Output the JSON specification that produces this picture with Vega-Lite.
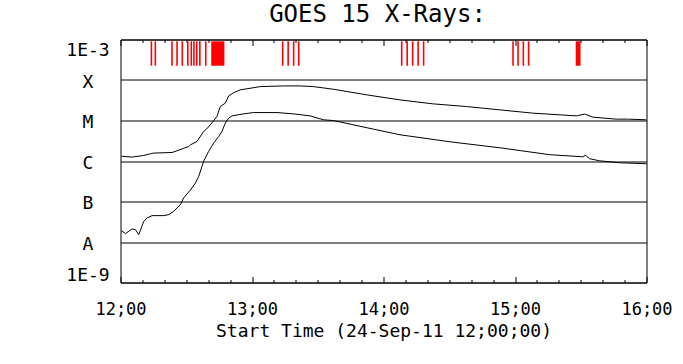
{
  "$schema": "https://vega.github.io/schema/vega-lite/v6.json",
  "autosize": {"type": "none"},
  "width": 526,
  "height": 243,
  "padding": {"left": 120.5, "top": 39.5, "right": 36.5, "bottom": 81.5},
  "background": "white",
  "title": {"text": "GOES 15 X-Rays:", "font": "DejaVu Sans Mono", "fontSize": 24, "fontWeight": "normal", "color": "black", "offset": 12, "dx": -6},
  "config": {
    "view": {"stroke": "black", "strokeWidth": 1},
    "axis": {"grid": false, "domain": false, "tickColor": "black", "tickWidth": 1, "labelColor": "black", "titleColor": "black"}
  },
  "datasets": {
    "flux": [
      {"ch": "long", "t": "2011-09-24T12:00:28Z", "v": 1.31e-6},
      {"ch": "long", "t": "2011-09-24T12:05:18Z", "v": 1.25e-6},
      {"ch": "long", "t": "2011-09-24T12:10:36Z", "v": 1.37e-6},
      {"ch": "long", "t": "2011-09-24T12:13:42Z", "v": 1.51e-6},
      {"ch": "long", "t": "2011-09-24T12:15:12Z", "v": 1.57e-6},
      {"ch": "long", "t": "2011-09-24T12:23:30Z", "v": 1.62e-6},
      {"ch": "long", "t": "2011-09-24T12:25:48Z", "v": 1.79e-6},
      {"ch": "long", "t": "2011-09-24T12:31:06Z", "v": 2.28e-6},
      {"ch": "long", "t": "2011-09-24T12:31:54Z", "v": 2.51e-6},
      {"ch": "long", "t": "2011-09-24T12:34:54Z", "v": 3.03e-6},
      {"ch": "long", "t": "2011-09-24T12:37:54Z", "v": 5.35e-6},
      {"ch": "long", "t": "2011-09-24T12:39:12Z", "v": 6.12e-6},
      {"ch": "long", "t": "2011-09-24T12:41:00Z", "v": 7.82e-6},
      {"ch": "long", "t": "2011-09-24T12:44:00Z", "v": 1.25e-5},
      {"ch": "long", "t": "2011-09-24T12:45:30Z", "v": 2.21e-5},
      {"ch": "long", "t": "2011-09-24T12:47:48Z", "v": 2.68e-5},
      {"ch": "long", "t": "2011-09-24T12:49:24Z", "v": 4.06e-5},
      {"ch": "long", "t": "2011-09-24T12:51:30Z", "v": 4.81e-5},
      {"ch": "long", "t": "2011-09-24T12:54:36Z", "v": 5.70e-5},
      {"ch": "long", "t": "2011-09-24T13:03:48Z", "v": 6.87e-5},
      {"ch": "long", "t": "2011-09-24T13:14:24Z", "v": 7.14e-5},
      {"ch": "long", "t": "2011-09-24T13:22:00Z", "v": 7.14e-5},
      {"ch": "long", "t": "2011-09-24T13:28:00Z", "v": 6.87e-5},
      {"ch": "long", "t": "2011-09-24T13:37:00Z", "v": 5.93e-5},
      {"ch": "long", "t": "2011-09-24T13:52:24Z", "v": 4.29e-5},
      {"ch": "long", "t": "2011-09-24T14:07:30Z", "v": 3.23e-5},
      {"ch": "long", "t": "2011-09-24T14:22:30Z", "v": 2.58e-5},
      {"ch": "long", "t": "2011-09-24T14:37:54Z", "v": 2.21e-5},
      {"ch": "long", "t": "2011-09-24T14:53:06Z", "v": 1.83e-5},
      {"ch": "long", "t": "2011-09-24T15:08:06Z", "v": 1.52e-5},
      {"ch": "long", "t": "2011-09-24T15:28:00Z", "v": 1.30e-5},
      {"ch": "long", "t": "2011-09-24T15:31:48Z", "v": 1.44e-5},
      {"ch": "long", "t": "2011-09-24T15:35:30Z", "v": 1.21e-5},
      {"ch": "long", "t": "2011-09-24T15:46:12Z", "v": 1.08e-5},
      {"ch": "long", "t": "2011-09-24T15:51:24Z", "v": 1.08e-5},
      {"ch": "long", "t": "2011-09-24T15:59:54Z", "v": 1.04e-5},
      {"ch": "short", "t": "2011-09-24T12:00:28Z", "v": 1.91e-8},
      {"ch": "short", "t": "2011-09-24T12:02:17Z", "v": 1.61e-8},
      {"ch": "short", "t": "2011-09-24T12:03:47Z", "v": 1.84e-8},
      {"ch": "short", "t": "2011-09-24T12:05:20Z", "v": 2.10e-8},
      {"ch": "short", "t": "2011-09-24T12:06:50Z", "v": 2.02e-8},
      {"ch": "short", "t": "2011-09-24T12:08:20Z", "v": 1.52e-8},
      {"ch": "short", "t": "2011-09-24T12:10:37Z", "v": 3.24e-8},
      {"ch": "short", "t": "2011-09-24T12:12:10Z", "v": 3.93e-8},
      {"ch": "short", "t": "2011-09-24T12:14:26Z", "v": 4.48e-8},
      {"ch": "short", "t": "2011-09-24T12:19:43Z", "v": 4.48e-8},
      {"ch": "short", "t": "2011-09-24T12:22:00Z", "v": 4.73e-8},
      {"ch": "short", "t": "2011-09-24T12:24:16Z", "v": 5.71e-8},
      {"ch": "short", "t": "2011-09-24T12:27:18Z", "v": 8.36e-8},
      {"ch": "short", "t": "2011-09-24T12:28:48Z", "v": 1.22e-7},
      {"ch": "short", "t": "2011-09-24T12:31:54Z", "v": 1.92e-7},
      {"ch": "short", "t": "2011-09-24T12:34:12Z", "v": 2.86e-7},
      {"ch": "short", "t": "2011-09-24T12:35:42Z", "v": 4.16e-7},
      {"ch": "short", "t": "2011-09-24T12:37:54Z", "v": 9.75e-7},
      {"ch": "short", "t": "2011-09-24T12:40:12Z", "v": 1.72e-6},
      {"ch": "short", "t": "2011-09-24T12:42:30Z", "v": 2.77e-6},
      {"ch": "short", "t": "2011-09-24T12:44:48Z", "v": 4.03e-6},
      {"ch": "short", "t": "2011-09-24T12:46:18Z", "v": 5.35e-6},
      {"ch": "short", "t": "2011-09-24T12:47:48Z", "v": 8.61e-6},
      {"ch": "short", "t": "2011-09-24T12:49:18Z", "v": 1.14e-5},
      {"ch": "short", "t": "2011-09-24T12:50:54Z", "v": 1.30e-5},
      {"ch": "short", "t": "2011-09-24T12:56:12Z", "v": 1.46e-5},
      {"ch": "short", "t": "2011-09-24T13:00:42Z", "v": 1.57e-5},
      {"ch": "short", "t": "2011-09-24T13:11:24Z", "v": 1.57e-5},
      {"ch": "short", "t": "2011-09-24T13:18:54Z", "v": 1.46e-5},
      {"ch": "short", "t": "2011-09-24T13:26:30Z", "v": 1.30e-5},
      {"ch": "short", "t": "2011-09-24T13:32:36Z", "v": 1.04e-5},
      {"ch": "short", "t": "2011-09-24T13:37:12Z", "v": 9.98e-6},
      {"ch": "short", "t": "2011-09-24T13:55:24Z", "v": 6.12e-6},
      {"ch": "short", "t": "2011-09-24T14:07:30Z", "v": 4.44e-6},
      {"ch": "short", "t": "2011-09-24T14:30:18Z", "v": 2.98e-6},
      {"ch": "short", "t": "2011-09-24T14:53:06Z", "v": 2.12e-6},
      {"ch": "short", "t": "2011-09-24T15:15:54Z", "v": 1.43e-6},
      {"ch": "short", "t": "2011-09-24T15:30:54Z", "v": 1.27e-6},
      {"ch": "short", "t": "2011-09-24T15:32:12Z", "v": 1.38e-6},
      {"ch": "short", "t": "2011-09-24T15:34:00Z", "v": 1.14e-6},
      {"ch": "short", "t": "2011-09-24T15:38:36Z", "v": 1.01e-6},
      {"ch": "short", "t": "2011-09-24T15:47:42Z", "v": 9.06e-7},
      {"ch": "short", "t": "2011-09-24T16:00:00Z", "v": 8.55e-7}
    ],
    "events": [
      {"t": "2011-09-24T12:14:06Z"}, {"t": "2011-09-24T12:15:54Z"},
      {"t": "2011-09-24T12:23:30Z"}, {"t": "2011-09-24T12:25:48Z"}, {"t": "2011-09-24T12:28:12Z"},
      {"t": "2011-09-24T12:30:42Z"}, {"t": "2011-09-24T12:32:18Z"}, {"t": "2011-09-24T12:33:30Z"},
      {"t": "2011-09-24T12:34:48Z"}, {"t": "2011-09-24T12:36:12Z"}, {"t": "2011-09-24T12:38:54Z"},
      {"t": "2011-09-24T13:14:00Z"}, {"t": "2011-09-24T13:16:30Z"}, {"t": "2011-09-24T13:19:00Z"}, {"t": "2011-09-24T13:21:18Z"},
      {"t": "2011-09-24T14:08:18Z"}, {"t": "2011-09-24T14:10:48Z"}, {"t": "2011-09-24T14:13:18Z"}, {"t": "2011-09-24T14:15:48Z"}, {"t": "2011-09-24T14:18:18Z"},
      {"t": "2011-09-24T14:59:06Z"}, {"t": "2011-09-24T15:01:24Z"}, {"t": "2011-09-24T15:03:48Z"}, {"t": "2011-09-24T15:06:12Z"}
    ],
    "blocks": [
      {"start": "2011-09-24T12:41:24Z", "end": "2011-09-24T12:47:24Z"},
      {"start": "2011-09-24T15:27:42Z", "end": "2011-09-24T15:29:54Z"}
    ]
  },
  "resolve": {"axis": {"x": "independent"}},
  "layer": [
    {
      "data": {"name": "flux"},
      "mark": {"type": "line", "color": "black", "strokeWidth": 1},
      "encoding": {
        "x": {
          "field": "t", "type": "temporal",
          "scale": {"type": "utc", "domain": [{"year": 2011, "month": 9, "date": 24, "hours": 12, "utc": true}, {"year": 2011, "month": 9, "date": 24, "hours": 16, "utc": true}]},
          "axis": {
            "orient": "bottom",
            "values": [
              {"year": 2011, "month": 9, "date": 24, "hours": 12, "utc": true},
              {"year": 2011, "month": 9, "date": 24, "hours": 13, "utc": true},
              {"year": 2011, "month": 9, "date": 24, "hours": 14, "utc": true},
              {"year": 2011, "month": 9, "date": 24, "hours": 15, "utc": true},
              {"year": 2011, "month": 9, "date": 24, "hours": 16, "utc": true}
            ],
            "ticks": true, "tickSize": -6,
            "labelExpr": "utcFormat(datum.value, '%H;%M')",
            "labelPadding": 25,
            "labelFont": "DejaVu Sans Mono", "labelFontSize": 17,
            "labelFlush": false, "labelOverlap": false, "labelBound": false,
            "title": "Start Time (24-Sep-11 12;00;00)",
            "titleFont": "DejaVu Sans Mono", "titleFontSize": 18, "titleFontWeight": "normal",
            "titlePadding": 5
          }
        },
        "y": {
          "field": "v", "type": "quantitative", "title": null,
          "scale": {"type": "log", "domain": [1e-9, 1e-3]},
          "axis": {
            "values": [1e-9, 1e-8, 1e-7, 1e-6, 1e-5, 1e-4, 1e-3],
            "grid": true, "gridColor": "black", "gridOpacity": 1, "gridWidth": 1,
            "ticks": false, "domain": false,
            "labelExpr": "['1E-9','A','B','C','M','X','1E-3'][round(log(datum.value)/LN10)+9]",
            "labelAlign": "center", "labelPadding": 33, "labelFlush": true, "labelOffset": 2,
            "labelOverlap": false, "labelBound": false,
            "labelFont": "DejaVu Sans Mono", "labelFontSize": 18
          }
        },
        "detail": {"field": "ch"}
      }
    },
    {
      "data": {"name": "events"},
      "mark": {"type": "rule", "color": "#ff0000", "strokeWidth": 1.6},
      "encoding": {
        "x": {
          "field": "t", "type": "temporal",
          "axis": {
            "orient": "top",
            "values": [
              {"year": 2011, "month": 9, "date": 24, "hours": 12, "utc": true},
              {"year": 2011, "month": 9, "date": 24, "hours": 13, "utc": true},
              {"year": 2011, "month": 9, "date": 24, "hours": 14, "utc": true},
              {"year": 2011, "month": 9, "date": 24, "hours": 15, "utc": true},
              {"year": 2011, "month": 9, "date": 24, "hours": 16, "utc": true}
            ],
            "tickSize": -6, "labels": false, "title": null
          }
        },
        "y": {"datum": 9.03e-4, "type": "quantitative"},
        "y2": {"datum": 2.25e-4}
      }
    },
    {
      "data": {"name": "blocks"},
      "mark": {"type": "rect", "color": "#ff0000"},
      "encoding": {
        "x": {
          "field": "start", "type": "temporal",
          "axis": {
            "orient": "top",
            "values": [
              {"year": 2011, "month": 9, "date": 24, "hours": 12, "minutes": 10, "utc": true},
              {"year": 2011, "month": 9, "date": 24, "hours": 12, "minutes": 20, "utc": true},
              {"year": 2011, "month": 9, "date": 24, "hours": 12, "minutes": 30, "utc": true},
              {"year": 2011, "month": 9, "date": 24, "hours": 12, "minutes": 40, "utc": true},
              {"year": 2011, "month": 9, "date": 24, "hours": 12, "minutes": 50, "utc": true},
              {"year": 2011, "month": 9, "date": 24, "hours": 13, "minutes": 10, "utc": true},
              {"year": 2011, "month": 9, "date": 24, "hours": 13, "minutes": 20, "utc": true},
              {"year": 2011, "month": 9, "date": 24, "hours": 13, "minutes": 30, "utc": true},
              {"year": 2011, "month": 9, "date": 24, "hours": 13, "minutes": 40, "utc": true},
              {"year": 2011, "month": 9, "date": 24, "hours": 13, "minutes": 50, "utc": true},
              {"year": 2011, "month": 9, "date": 24, "hours": 14, "minutes": 10, "utc": true},
              {"year": 2011, "month": 9, "date": 24, "hours": 14, "minutes": 20, "utc": true},
              {"year": 2011, "month": 9, "date": 24, "hours": 14, "minutes": 30, "utc": true},
              {"year": 2011, "month": 9, "date": 24, "hours": 14, "minutes": 40, "utc": true},
              {"year": 2011, "month": 9, "date": 24, "hours": 14, "minutes": 50, "utc": true},
              {"year": 2011, "month": 9, "date": 24, "hours": 15, "minutes": 10, "utc": true},
              {"year": 2011, "month": 9, "date": 24, "hours": 15, "minutes": 20, "utc": true},
              {"year": 2011, "month": 9, "date": 24, "hours": 15, "minutes": 30, "utc": true},
              {"year": 2011, "month": 9, "date": 24, "hours": 15, "minutes": 40, "utc": true},
              {"year": 2011, "month": 9, "date": 24, "hours": 15, "minutes": 50, "utc": true}
            ],
            "tickSize": -3, "labels": false, "title": null
          }
        },
        "x2": {"field": "end"},
        "y": {"datum": 9.03e-4, "type": "quantitative"},
        "y2": {"datum": 2.25e-4}
      }
    },
    {
      "data": {"name": "flux"},
      "mark": {"type": "point", "opacity": 0},
      "encoding": {
        "x": {
          "field": "t", "type": "temporal",
          "axis": {
            "orient": "bottom",
            "values": [
              {"year": 2011, "month": 9, "date": 24, "hours": 12, "minutes": 10, "utc": true},
              {"year": 2011, "month": 9, "date": 24, "hours": 12, "minutes": 20, "utc": true},
              {"year": 2011, "month": 9, "date": 24, "hours": 12, "minutes": 30, "utc": true},
              {"year": 2011, "month": 9, "date": 24, "hours": 12, "minutes": 40, "utc": true},
              {"year": 2011, "month": 9, "date": 24, "hours": 12, "minutes": 50, "utc": true},
              {"year": 2011, "month": 9, "date": 24, "hours": 13, "minutes": 10, "utc": true},
              {"year": 2011, "month": 9, "date": 24, "hours": 13, "minutes": 20, "utc": true},
              {"year": 2011, "month": 9, "date": 24, "hours": 13, "minutes": 30, "utc": true},
              {"year": 2011, "month": 9, "date": 24, "hours": 13, "minutes": 40, "utc": true},
              {"year": 2011, "month": 9, "date": 24, "hours": 13, "minutes": 50, "utc": true},
              {"year": 2011, "month": 9, "date": 24, "hours": 14, "minutes": 10, "utc": true},
              {"year": 2011, "month": 9, "date": 24, "hours": 14, "minutes": 20, "utc": true},
              {"year": 2011, "month": 9, "date": 24, "hours": 14, "minutes": 30, "utc": true},
              {"year": 2011, "month": 9, "date": 24, "hours": 14, "minutes": 40, "utc": true},
              {"year": 2011, "month": 9, "date": 24, "hours": 14, "minutes": 50, "utc": true},
              {"year": 2011, "month": 9, "date": 24, "hours": 15, "minutes": 10, "utc": true},
              {"year": 2011, "month": 9, "date": 24, "hours": 15, "minutes": 20, "utc": true},
              {"year": 2011, "month": 9, "date": 24, "hours": 15, "minutes": 30, "utc": true},
              {"year": 2011, "month": 9, "date": 24, "hours": 15, "minutes": 40, "utc": true},
              {"year": 2011, "month": 9, "date": 24, "hours": 15, "minutes": 50, "utc": true}
            ],
            "tickSize": -3, "labels": false, "title": null
          }
        },
        "y": {"field": "v", "type": "quantitative", "title": null}
      }
    }
  ]
}
